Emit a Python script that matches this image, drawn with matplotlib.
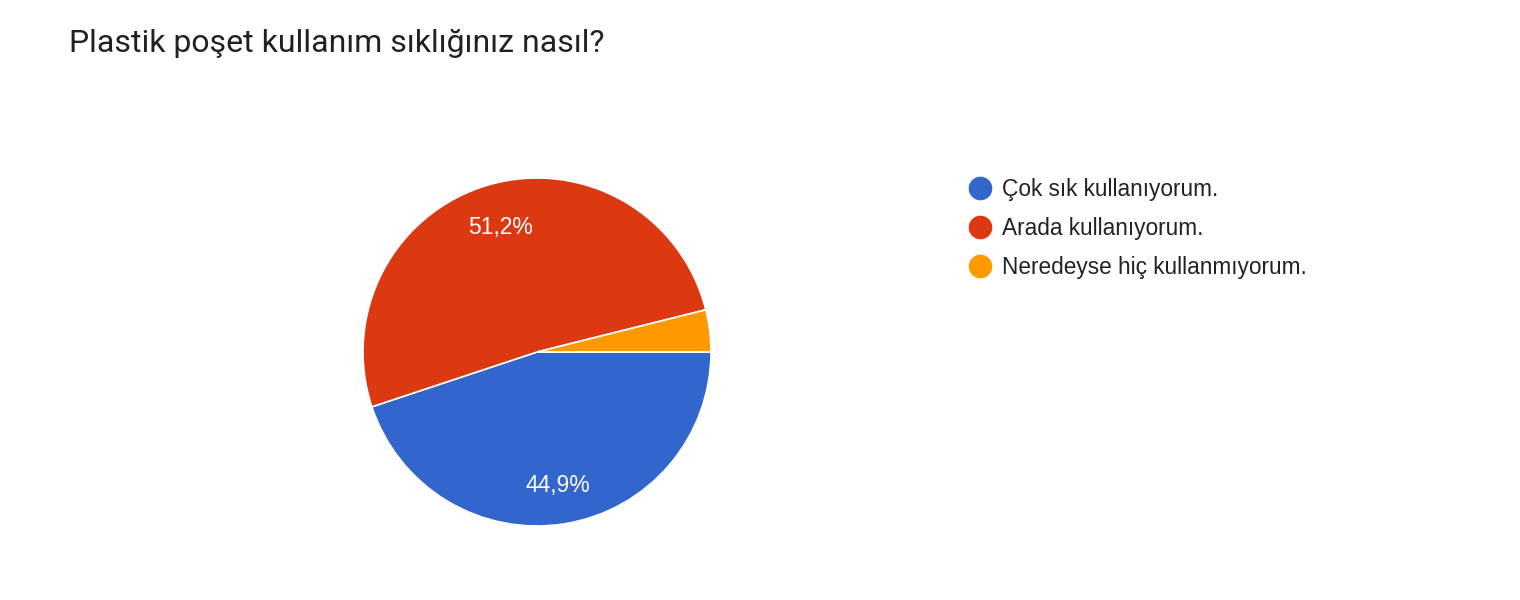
import matplotlib.pyplot as plt
from matplotlib.lines import Line2D

# survey answers (share of responses, %)
labels = ['Çok sık kullanıyorum.', 'Arada kullanıyorum.', 'Neredeyse hiç kullanmıyorum.']
values = [44.9, 51.2, 3.9]
colors = ['#3366cc', '#dc3912', '#ff9900']
title = 'Plastik poşet kullanım sıklığınız nasıl?'

W, H = 1520, 600
fig = plt.figure(figsize=(W / 100, H / 100), dpi=100)
fig.patch.set_facecolor('white')

# pie centre (537, 352), radius 174 px
cx, cy, r = 537, 352, 174
ax = fig.add_axes([(cx - r) / W, (H - cy - r) / H, 2 * r / W, 2 * r / H])


def pct(p):
    if p < 5:
        return ''
    return f'{p:.1f}%'.replace('.', ',')


wedges, texts, autotexts = ax.pie(
    values, colors=colors, startangle=0, counterclock=False,
    autopct=pct, pctdistance=0.76, radius=1,
    wedgeprops=dict(edgecolor='white', linewidth=1.2),
    textprops=dict(color='white', fontsize=16.5, family='Liberation Sans'))
# nudge labels down a little, like the original renderer
for t in autotexts:
    x, y = t.get_position()
    t.set_position((x, y - 0.015))
ax.set_xlim(-1, 1)
ax.set_ylim(-1, 1)
ax.set_aspect('equal')
ax.axis('off')

fig.text(69 / W, 1 - 43 / H, title, fontsize=23, family='Roboto',
         color='#212121', va='center', ha='left')

handles = [Line2D([0], [0], marker='o', linestyle='', markersize=16,
                  markerfacecolor=c, markeredgecolor=c) for c in colors]
fig.legend(handles, labels, loc='upper left',
           bbox_to_anchor=(953 / W, 1 - 167 / H), frameon=False,
           prop=dict(family='Liberation Sans', size=16.3),
           labelcolor='#222222', handletextpad=0.3, labelspacing=0.7,
           borderpad=0, handlelength=1.35)

fig.savefig('out.png', dpi=100, facecolor='white')
